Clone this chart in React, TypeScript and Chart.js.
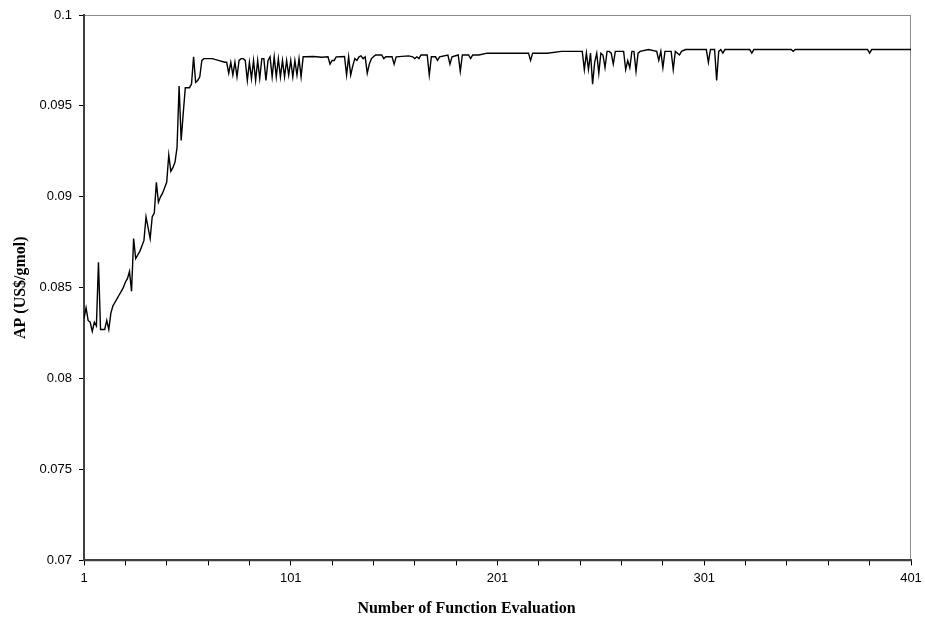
import { useEffect, useRef } from "react";
import { Chart, registerables } from "chart.js";

Chart.register(...registerables);

// Evaluation numbers (x) and AP values (y)
const evals = [
  1, 2, 3, 4, 5, 6, 7, 8, 9, 10, 11, 12, 13, 14, 15, 16, 17, 18, 19, 20,
  21, 22, 23, 24, 25, 26, 27, 28, 29, 30, 31, 32, 33, 34, 35, 36, 37, 38, 39, 40,
  41, 42, 43, 44, 45, 46, 47, 48, 49, 50, 51, 52, 53, 54, 55, 56, 57, 58, 59, 60,
  63, 66, 69,
  70, 71, 72, 73, 74, 75, 76, 77, 78, 79, 80, 81, 82, 83, 84, 85, 86, 87, 88, 89,
  90, 91, 92, 93, 94, 95, 96, 97, 98, 99, 100, 101, 102, 103, 104, 105, 106, 107,
  108, 112, 116, 119, 120, 121, 122, 123, 127, 128, 129, 130, 131, 132, 133, 134,
  135, 136, 137, 138, 139, 140, 141, 142, 145, 146, 147, 150, 151, 152, 158, 160,
  161, 162, 163, 164, 167, 168, 169, 171, 172, 173, 177, 178, 179, 182, 183, 184,
  187, 188, 189, 192, 196, 200, 205, 210, 216, 217, 218, 225, 232, 236, 241,
  242, 243, 244, 245, 246, 247, 248, 249, 250, 251, 252, 253, 254, 255, 256, 257,
  258, 262, 263, 264, 265, 266, 267, 268, 269, 270, 274, 278, 279, 280, 281, 282,
  285, 286, 287, 289, 290, 292, 296, 302, 303, 304, 306, 307, 308, 309, 310, 311,
  315, 320, 323, 324, 325, 330, 340, 343, 344, 345, 350, 360, 370, 380, 381, 382,
  390, 401,
];

const apValues = [
  0.0833, 0.0839, 0.0832, 0.0831, 0.0826, 0.0831, 0.0829, 0.0864, 0.0827, 0.0827,
  0.0827, 0.0832, 0.0827, 0.0836, 0.084, 0.0842, 0.0844, 0.0846, 0.0848, 0.085,
  0.0853, 0.0855, 0.0859, 0.0848, 0.0877, 0.0866, 0.0868, 0.087, 0.0873, 0.0876,
  0.0889, 0.0883, 0.0877, 0.0889, 0.0891, 0.0908, 0.0897, 0.09, 0.0902, 0.0905,
  0.0908, 0.0923, 0.0914, 0.0916, 0.0919, 0.0927, 0.0961, 0.0931, 0.0946, 0.096,
  0.096, 0.096, 0.0962, 0.0977, 0.0963, 0.0964, 0.0966, 0.0975, 0.0976, 0.0976,
  0.0976, 0.0975, 0.0974,
  0.0974, 0.0968, 0.0974, 0.0967, 0.0974, 0.0966, 0.0975, 0.0976, 0.0976, 0.0975,
  0.0964, 0.0974, 0.0965, 0.0975, 0.0964, 0.0975, 0.0965, 0.0976, 0.0976, 0.0964,
  0.0975, 0.0977, 0.0966, 0.0977, 0.0966, 0.0976, 0.0966, 0.0975, 0.0966, 0.0975,
  0.0967, 0.0975, 0.0966, 0.0975, 0.0967, 0.0976, 0.0966, 0.0977,
  0.0977, 0.09772, 0.09768, 0.0977, 0.0973, 0.0975, 0.0975, 0.0977, 0.09772, 0.0967,
  0.0977, 0.0967, 0.0972, 0.0976, 0.0975, 0.0977, 0.09775, 0.0976, 0.0977, 0.0968,
  0.0973, 0.0976, 0.0977, 0.0978, 0.0978, 0.0976, 0.0977, 0.0977, 0.0973, 0.0977,
  0.09775, 0.0977, 0.0976, 0.0977, 0.0976, 0.0978, 0.0978, 0.0967, 0.0977, 0.0977,
  0.0975, 0.0977, 0.0978, 0.0973, 0.0977, 0.0978, 0.0969, 0.0978, 0.0978, 0.0976,
  0.0978, 0.0978, 0.0979, 0.0979, 0.0979, 0.0979, 0.0979, 0.0975, 0.0979, 0.0979,
  0.098, 0.098, 0.098,
  0.098, 0.097, 0.0979, 0.097, 0.0979, 0.0962, 0.0974, 0.0979, 0.0968, 0.0979,
  0.0978, 0.0971, 0.098, 0.098, 0.0979, 0.0973, 0.098, 0.098, 0.097, 0.0975,
  0.0971, 0.098, 0.098, 0.0969, 0.0979, 0.098, 0.0981, 0.098, 0.0975, 0.098,
  0.0971, 0.098, 0.098, 0.097, 0.098, 0.0978, 0.098, 0.0981, 0.0981, 0.0981,
  0.0974, 0.0981, 0.0981, 0.0964, 0.098, 0.0981, 0.0979, 0.0981,
  0.0981, 0.0981, 0.0981, 0.0979, 0.0981, 0.0981, 0.0981, 0.0981, 0.098, 0.0981,
  0.0981, 0.0981, 0.0981, 0.0981, 0.0979, 0.0981, 0.0981, 0.0981,
];

const xTickValues = [
  1, 21, 41, 61, 81, 101, 121, 141, 161, 181, 201, 221, 241, 261, 281, 301, 321,
  341, 361, 381, 401,
];
const xTickLabels = [
  "1", "", "", "", "", "101", "", "", "", "", "201", "", "", "", "", "301", "",
  "", "", "", "401",
];
const yTickValues = [0.07, 0.075, 0.08, 0.085, 0.09, 0.095, 0.1];
const yTickLabels = ["0.07", "0.075", "0.08", "0.085", "0.09", "0.095", "0.1"];

const xTitle = "Number of Function Evaluation";
const yTitle = "AP (US$/gmol)";

const TITLE_FONT = "bold 16px 'Liberation Serif', 'Times New Roman', serif";

const framePlugin = {
  id: "frame",
  beforeDraw(chart: any) {
    const { ctx, chartArea } = chart;
    const { left, top, right, bottom } = chartArea;
    ctx.save();
    ctx.strokeStyle = "#8c8c8c";
    ctx.lineWidth = 1;
    ctx.strokeRect(left, top + 0.5, right - left - 0.5, bottom - top);
    ctx.restore();
  },
};

// Draws the x-axis title centred on the whole chart (as in the original)
const xTitlePlugin = {
  id: "xTitle",
  afterDraw(chart: any) {
    const { ctx, width, height } = chart;
    ctx.save();
    ctx.font = TITLE_FONT;
    ctx.fillStyle = "#000000";
    ctx.textAlign = "center";
    ctx.textBaseline = "middle";
    ctx.fillText(xTitle, width / 2 + 4, height - 14);
    ctx.restore();
  },
};

export default function App() {
  const canvasRef = useRef<HTMLCanvasElement | null>(null);

  useEffect(() => {
    if (!canvasRef.current) return;
    const tickFont = { family: "'Liberation Sans', Arial, sans-serif", size: 13 };
    const titleFont = {
      family: "'Liberation Serif', 'Times New Roman', serif",
      size: 16,
      weight: "bold" as const,
    };
    const chart = new Chart(canvasRef.current, {
      type: "line",
      data: {
        datasets: [
          {
            data: evals.map((e, i) => ({ x: e, y: apValues[i] })),
            borderColor: "#000000",
            borderWidth: 1.4,
            pointRadius: 0,
            tension: 0,
            fill: false,
          },
        ],
      },
      options: {
        animation: false,
        responsive: true,
        maintainAspectRatio: false,
        layout: { padding: { left: 0, right: 0, top: 15, bottom: 32 } },
        plugins: {
          legend: { display: false },
          tooltip: { enabled: false },
          title: { display: false },
        },
        scales: {
          x: {
            type: "linear",
            min: 1,
            max: 401,
            afterBuildTicks: (scale: any) => {
              scale.ticks = xTickValues.map((v) => ({ value: v }));
            },
            afterFit: (scale: any) => {
              scale.paddingRight = 14;
            },
            ticks: {
              autoSkip: false,
              maxRotation: 0,
              font: tickFont,
              color: "#000000",
              padding: 5,
              callback: (_v: any, i: number) => xTickLabels[i],
            },
            grid: {
              drawOnChartArea: false,
              tickLength: 5,
              tickColor: "#000000",
            },
            border: { color: "#404040", width: 2 },
          },
          y: {
            type: "linear",
            min: 0.07,
            max: 0.1,
            afterBuildTicks: (scale: any) => {
              scale.ticks = yTickValues.map((v) => ({ value: v }));
            },
            afterFit: (scale: any) => {
              scale.width = 84;
            },
            ticks: {
              font: tickFont,
              color: "#000000",
              padding: 7,
              callback: (_v: any, i: number) => yTickLabels[i],
            },
            grid: {
              drawOnChartArea: false,
              tickLength: 5,
              tickColor: "#000000",
            },
            border: { color: "#404040", width: 2 },
            title: {
              display: true,
              text: yTitle,
              font: titleFont,
              color: "#000000",
              padding: { top: 11, bottom: 4 },
            },
          },
        },
      },
      plugins: [framePlugin, xTitlePlugin],
    });
    return () => chart.destroy();
  }, []);

  return (
    <div style={{ position: "fixed", left: 0, top: 0, width: 925, height: 623, background: "#ffffff" }}>
      <canvas ref={canvasRef} />
    </div>
  );
}
